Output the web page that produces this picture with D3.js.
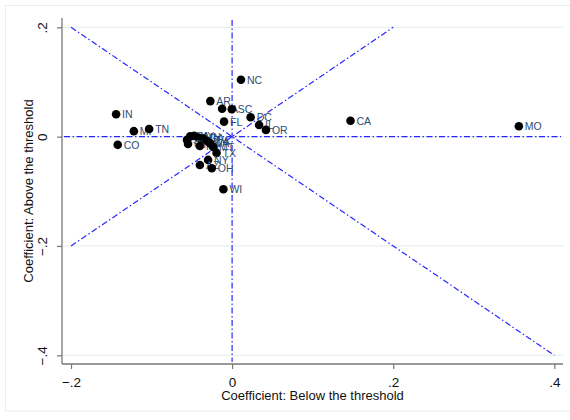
<!DOCTYPE html>
<html>
<head>
<meta charset="utf-8">
<script src="https://cdn.jsdelivr.net/npm/d3@7"></script>
<style>
  html, body { margin: 0; padding: 0; background: #fff; }
  svg { display: block; }
  text { font-family: "Liberation Sans", Arial, Helvetica, sans-serif; }
</style>
</head>
<body>
<svg id="chart" width="570" height="420"></svg>
<script>
// State-level coefficients: below vs. above the threshold
const states = ["NC", "AR", "IA", "SC", "FL", "DC", "IL", "OR", "CA", "MO",
  "IN", "MI", "TN", "CO",
  "PA", "KY", "SD", "MN", "GA", "CT", "NJ", "WA", "VA", "MT", "TX", "NY", "AZ", "OH", "WI"];
const belowCoef = [0.011, -0.027, -0.0124, -0.0004, -0.010, 0.023, 0.0335, 0.042, 0.147, 0.356,
  -0.144, -0.122, -0.103, -0.142,
  -0.052, -0.047, -0.056, -0.042, -0.036, -0.0547, -0.040, -0.031, -0.0273, -0.0236, -0.0193, -0.0298, -0.040, -0.0252, -0.0108];
const aboveCoef = [0.104, 0.065, 0.051, 0.050, 0.0274, 0.0355, 0.0214, 0.0123, 0.029, 0.019,
  0.041, 0.010, 0.014, -0.015,
  0.0004, 0.0013, -0.006, -0.0015, -0.0033, -0.0134, -0.017, -0.0079, -0.0124, -0.0188, -0.0298, -0.0426, -0.0518, -0.0578, -0.0963];

const xTicks = [-0.2, 0, 0.2, 0.4];
const yTicks = [0.2, 0, -0.2, -0.4];
const tickFmt = v => v === 0 ? "0" : d3.format(".1f")(v).replace("0.", ".");

// Reference lines: 45-degree lines through the origin
const diagUp = [[-0.2, -0.2], [0.2, 0.2]];
const diagDown = [[-0.2, 0.2], [0.4, -0.4]];

const svg = d3.select("#chart");
const plot = { left: 62, right: 563, top: 18, bottom: 364 };

const x = d3.scaleLinear().domain([-0.2, 0.4]).range([71, 554.3]);
const y = d3.scaleLinear().domain([0.2, -0.4]).range([27.3, 355.3]);

// outer frame
svg.append("rect")
  .attr("x", 5.5).attr("y", 5.5).attr("width", 580).attr("height", 405.5)
  .attr("fill", "none").attr("stroke", "#e6eef0");

// horizontal grid lines
svg.append("g").selectAll("line").data(yTicks).join("line")
  .attr("x1", plot.left).attr("x2", plot.right)
  .attr("y1", d => y(d)).attr("y2", d => y(d))
  .attr("stroke", "#e8f0f2").attr("stroke-width", 1.2);

// reference lines
const dash = "6,2.5,1.5,2.5";
const lineGen = d3.line().x(d => x(d[0])).y(d => y(d[1]));
const refs = svg.append("g")
  .attr("fill", "none").attr("stroke", "#2626ff").attr("stroke-width", 1.2)
  .attr("stroke-dasharray", dash);
refs.append("path").attr("d", lineGen(diagDown));
refs.append("path").attr("d", lineGen(diagUp));
refs.append("path").attr("d", lineGen([[x.invert(plot.left + 2), 0], [x.invert(plot.right - 2), 0]]));
refs.append("path").attr("d", lineGen([[0, y.invert(plot.top + 2)], [0, y.invert(plot.bottom - 2)]]));

// axes
const axisColor = "#777";
svg.append("line").attr("x1", plot.left).attr("x2", plot.left)
  .attr("y1", plot.top).attr("y2", plot.bottom).attr("stroke", axisColor).attr("stroke-width", 1.3);
svg.append("line").attr("x1", plot.left).attr("x2", plot.right)
  .attr("y1", plot.bottom).attr("y2", plot.bottom).attr("stroke", axisColor).attr("stroke-width", 1.3);

const xAxis = svg.append("g").attr("transform", `translate(0,${plot.bottom})`)
  .call(d3.axisBottom(x).tickValues(xTicks).tickFormat(tickFmt).tickSize(5).tickPadding(8).tickSizeOuter(0));
xAxis.select(".domain").remove();
xAxis.selectAll("line").attr("stroke", axisColor).attr("stroke-width", 1.2);
xAxis.selectAll("text").attr("font-size", 13.5).attr("fill", "#111")
  .attr("font-family", "'Liberation Sans', Arial, sans-serif");

const yAxis = svg.append("g").attr("transform", `translate(${plot.left},0)`)
  .call(d3.axisLeft(y).tickValues(yTicks).tickFormat(tickFmt).tickSize(5).tickSizeOuter(0));
yAxis.select(".domain").remove();
yAxis.selectAll("line").attr("stroke", axisColor).attr("stroke-width", 1.2);
yAxis.selectAll("text")
  .attr("x", null).attr("dy", null)
  .attr("transform", "translate(-20,0) rotate(-90)")
  .attr("text-anchor", "middle").attr("dominant-baseline", "central")
  .attr("font-size", 13.5).attr("fill", "#111")
  .attr("font-family", "'Liberation Sans', Arial, sans-serif");

// axis titles
svg.append("text")
  .attr("x", (plot.left + plot.right) / 2).attr("y", 400)
  .attr("text-anchor", "middle").attr("font-size", 13).attr("fill", "#111")
  .text("Coefficient: Below the threshold");
svg.append("text")
  .attr("transform", `translate(28,${(plot.top + plot.bottom) / 2}) rotate(-90)`)
  .attr("text-anchor", "middle").attr("dominant-baseline", "central")
  .attr("font-size", 13).attr("fill", "#111")
  .text("Coefficient: Above the threshold");

// points with state labels
const data = states.map((s, i) => ({ s, bx: belowCoef[i], ay: aboveCoef[i] }));
const pts = svg.append("g");
data.forEach(d => {
  pts.append("circle").attr("cx", x(d.bx)).attr("cy", y(d.ay)).attr("r", 4.3).attr("fill", "#000");
  pts.append("text").attr("x", x(d.bx) + 6).attr("y", y(d.ay))
    .attr("dominant-baseline", "central").attr("font-size", 10.5).attr("fill", "#2b4c74")
    .text(d.s);
});
</script>
</body>
</html>
